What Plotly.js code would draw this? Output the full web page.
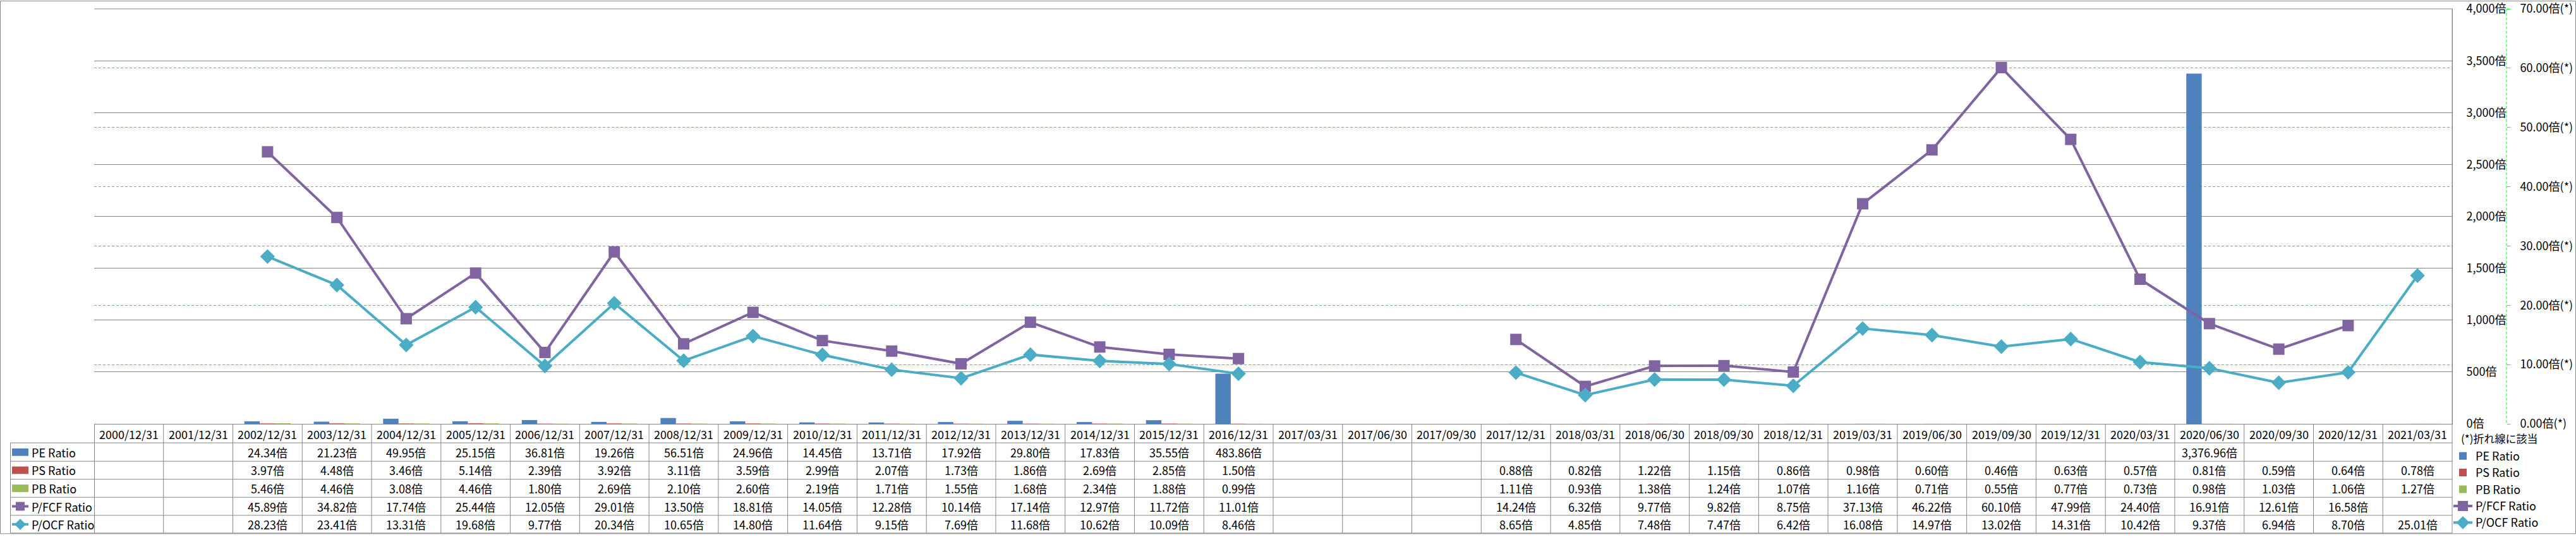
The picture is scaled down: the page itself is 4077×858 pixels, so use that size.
<!DOCTYPE html>
<html><head><meta charset="utf-8">
<script src="https://cdn.plot.ly/plotly-3.0.1.min.js"></script>
<style>html,body{margin:0;padding:0;background:#fff;overflow:hidden;} #chart{width:4077px;height:858px;}</style>
</head><body><div id="chart"></div>
<script>
const categories = ['2000/12/31','2001/12/31','2002/12/31','2003/12/31','2004/12/31','2005/12/31','2006/12/31','2007/12/31','2008/12/31','2009/12/31','2010/12/31','2011/12/31','2012/12/31','2013/12/31','2014/12/31','2015/12/31','2016/12/31','2017/03/31','2017/06/30','2017/09/30','2017/12/31','2018/03/31','2018/06/30','2018/09/30','2018/12/31','2019/03/31','2019/06/30','2019/09/30','2019/12/31','2020/03/31','2020/06/30','2020/09/30','2020/12/31','2021/03/31'];
const peRatio = [null,null,24.34,21.23,49.95,25.15,36.81,19.26,56.51,24.96,14.45,13.71,17.92,29.80,17.83,35.55,483.86,null,null,null,null,null,null,null,null,null,null,null,null,null,3376.96,null,null,null];
const psRatio = [null,null,3.97,4.48,3.46,5.14,2.39,3.92,3.11,3.59,2.99,2.07,1.73,1.86,2.69,2.85,1.50,null,null,null,0.88,0.82,1.22,1.15,0.86,0.98,0.60,0.46,0.63,0.57,0.81,0.59,0.64,0.78];
const pbRatio = [null,null,5.46,4.46,3.08,4.46,1.80,2.69,2.10,2.60,2.19,1.71,1.55,1.68,2.34,1.88,0.99,null,null,null,1.11,0.93,1.38,1.24,1.07,1.16,0.71,0.55,0.77,0.73,0.98,1.03,1.06,1.27];
const pfcfRatio = [null,null,45.89,34.82,17.74,25.44,12.05,29.01,13.50,18.81,14.05,12.28,10.14,17.14,12.97,11.72,11.01,null,null,null,14.24,6.32,9.77,9.82,8.75,37.13,46.22,60.10,47.99,24.40,16.91,12.61,16.58,null];
const pocfRatio = [null,null,28.23,23.41,13.31,19.68,9.77,20.34,10.65,14.80,11.64,9.15,7.69,11.68,10.62,10.09,8.46,null,null,null,8.65,4.85,7.48,7.47,6.42,16.08,14.97,13.02,14.31,10.42,9.37,6.94,8.70,25.01];
const seriesNames = ['PE Ratio','PS Ratio','PB Ratio','P/FCF Ratio','P/OCF Ratio'];
const seriesColors = ['#4F81BD','#C0504D','#9BBB59','#8064A2','#4BACC6'];
const unitSuffix = '倍';
const lineAxisSuffix = '倍(*)';
const lineNote = '(*)折れ線に該当';

// layout geometry (pixels)
const W = 4077, H = 858;
const ML = 149, MR = 20, MT = 14, MB = 858 - 681;
const PW = W - ML - MR, PH = H - MT - MB;
const plotRight = 3881;
const px = x => (x - ML) / PW;
const py = y => (681 - y) / PH;
const FONT = 'Noto Sans CJK JP, Noto Sans, sans-serif';
const GRAY = '#868686';

const traces = [];
const barData = [peRatio, psRatio, pbRatio];
barData.forEach((d, k) => traces.push({
  type: 'bar', x: categories, y: d, name: seriesNames[k], legendgroup: 'g' + k,
  marker: {color: seriesColors[k]}, yaxis: 'y', hoverinfo: 'skip'
}));
traces.push({type: 'scatter', mode: 'lines+markers', x: categories, y: pfcfRatio, name: seriesNames[3], legendgroup: 'g3',
  yaxis: 'y2', connectgaps: false, line: {color: seriesColors[3], width: 4},
  marker: {symbol: 'square', size: 18, color: seriesColors[3]}, cliponaxis: false, hoverinfo: 'skip'});
traces.push({type: 'scatter', mode: 'lines+markers', x: categories, y: pocfRatio, name: seriesNames[4], legendgroup: 'g4',
  yaxis: 'y2', connectgaps: false, line: {color: seriesColors[4], width: 4},
  marker: {symbol: 'diamond', size: 18, color: seriesColors[4]}, cliponaxis: false, hoverinfo: 'skip'});

const fmt = v => v.toLocaleString('en-US', {minimumFractionDigits: 2, maximumFractionDigits: 2}) + unitSuffix;
const annotations = [];
const shapes = [];
const tf = {family: FONT, size: 18, color: '#000'};

// header row
const headerY = 697;
categories.forEach(c => annotations.push({x: c, xref: 'x', y: py(headerY), yref: 'paper', text: c, showarrow: false, font: tf, yanchor: 'middle'}));
const rowCenters = [726.5, 755.5, 784.5, 813.5, 842.5];
const allSeries = [peRatio, psRatio, pbRatio, pfcfRatio, pocfRatio];
allSeries.forEach((d, r) => {
  d.forEach((v, i) => {
    if (v !== null) annotations.push({x: categories[i], xref: 'x', y: py(rowCenters[r]), yref: 'paper', text: fmt(v), showarrow: false, font: tf, yanchor: 'middle'});
  });
  annotations.push({x: px(48), xref: 'paper', xanchor: 'left', y: py(rowCenters[r]), yref: 'paper', text: seriesNames[r], showarrow: false, font: tf, yanchor: 'middle'});
});
annotations.push({x: px(3893), xref: 'paper', xanchor: 'left', y: py(704), yref: 'paper', text: lineNote, showarrow: false, font: {family: FONT, size: 17, color: '#000'}, yanchor: 'middle'});

// table lines
const ln = {color: GRAY, width: 1};
shapes.push({type: 'line', xref: 'paper', yref: 'paper', x0: px(150), x1: px(plotRight), y0: py(681.5), y1: py(681.5), line: ln});
[711.5, 741, 770, 799, 828, 856.5].forEach(y => shapes.push({type: 'line', xref: 'paper', yref: 'paper', x0: px(16.5), x1: px(plotRight), y0: py(y), y1: py(y), line: ln}));
shapes.push({type: 'line', xref: 'paper', yref: 'paper', x0: px(16.5), x1: px(16.5), y0: py(711.5), y1: py(856.5), line: ln});
shapes.push({type: 'line', xref: 'paper', yref: 'paper', x0: px(149.5), x1: px(149.5), y0: py(681.5), y1: py(856.5), line: ln});
shapes.push({type: 'line', xref: 'paper', yref: 'paper', x0: px(plotRight), x1: px(plotRight), y0: py(13.5), y1: py(856.5), line: ln});
shapes.push({type: 'line', xref: 'paper', yref: 'paper', x0: px(149), x1: px(plotRight), y0: py(14), y1: py(14), line: ln});
for (let i = 0; i < categories.length - 1; i++) {
  shapes.push({type: 'line', xref: 'x', yref: 'paper', x0: i + 0.5, x1: i + 0.5, y0: py(681.5), y1: py(856.5), line: ln});
}
// secondary axis dashed line
shapes.push({type: 'line', xref: 'paper', yref: 'paper', x0: px(3967), x1: px(3967), y0: py(14), y1: py(681), line: {color: '#00FF00', width: 1, dash: '4px,3px'}});
// outer border
shapes.push({type: 'rect', xref: 'paper', yref: 'paper', x0: px(0.5), x1: px(4076.5), y0: py(1.5), y1: py(857.5), line: ln});

// left-column legend swatches
const swX0 = 19, swX1 = 45;
[0, 1, 2].forEach(k => shapes.push({type: 'rect', xref: 'paper', yref: 'paper', x0: px(swX0), x1: px(swX1), y0: py(rowCenters[k] - 6), y1: py(rowCenters[k] + 6), line: {width: 0}, fillcolor: seriesColors[k]}));
[3, 4].forEach(k => shapes.push({type: 'line', xref: 'paper', yref: 'paper', x0: px(swX0), x1: px(swX1), y0: py(rowCenters[k]), y1: py(rowCenters[k]), line: {color: seriesColors[k], width: 4}}));
const cx = 32;
shapes.push({type: 'rect', xref: 'paper', yref: 'paper', x0: px(cx - 7), x1: px(cx + 7), y0: py(rowCenters[3] - 7), y1: py(rowCenters[3] + 7), line: {width: 0}, fillcolor: seriesColors[3]});
const dy = rowCenters[4];
shapes.push({type: 'path', xref: 'paper', yref: 'paper', path: `M${px(cx - 9)},${py(dy)} L${px(cx)},${py(dy - 9)} L${px(cx + 9)},${py(dy)} L${px(cx)},${py(dy + 9)} Z`, line: {width: 0}, fillcolor: seriesColors[4]});

const layout = {
  width: W, height: H,
  margin: {l: ML, r: MR, t: MT, b: MB, pad: 0},
  paper_bgcolor: '#fff', plot_bgcolor: 'rgba(0,0,0,0)',
  font: {family: FONT, size: 18, color: '#000'},
  barmode: 'group', bargap: 0.333, bargroupgap: 0,
  showlegend: true,
  legend: {x: px(3878), y: py(714), xanchor: 'left', yanchor: 'top', bgcolor: 'rgba(0,0,0,0)', tracegroupgap: 4, font: {family: FONT, size: 18, color: '#000'}, traceorder: 'normal'},
  xaxis: {domain: [0, px(plotRight)], type: 'category', categoryorder: 'array', categoryarray: categories, range: [-0.5, categories.length - 0.5],
    showticklabels: false, ticks: '', showgrid: false, zeroline: false, showline: true, linecolor: GRAY, linewidth: 1, fixedrange: true},
  yaxis: {range: [0, 4000.5], tickmode: 'linear', tick0: 0, dtick: 500, side: 'right', anchor: 'x', showline: true, linecolor: GRAY, linewidth: 1,
    gridcolor: GRAY, gridwidth: 1, zeroline: false, ticks: '', tickformat: ',d', ticksuffix: unitSuffix, ticklabelstandoff: 18,
    ticklabeloverflow: 'allow', tickfont: {family: FONT, size: 18, color: '#000'}, fixedrange: true},
  yaxis2: {range: [0, 70.01], tickmode: 'linear', tick0: 0, dtick: 10, overlaying: 'y', side: 'right', anchor: 'free', position: px(3967), showline: false,
    gridcolor: '#00FF00', gridwidth: 1, griddash: '4px,3px', zeroline: false, ticks: 'outside', ticklen: 5, tickcolor: '#00FF00',
    tickformat: '.2f', ticksuffix: lineAxisSuffix, ticklabelstandoff: 12, ticklabeloverflow: 'allow', tickfont: {family: FONT, size: 18, color: '#000'}, fixedrange: true},
  annotations: annotations, shapes: shapes
};
Plotly.newPlot('chart', traces, layout, {displayModeBar: false, staticPlot: true});
</script></body></html>
